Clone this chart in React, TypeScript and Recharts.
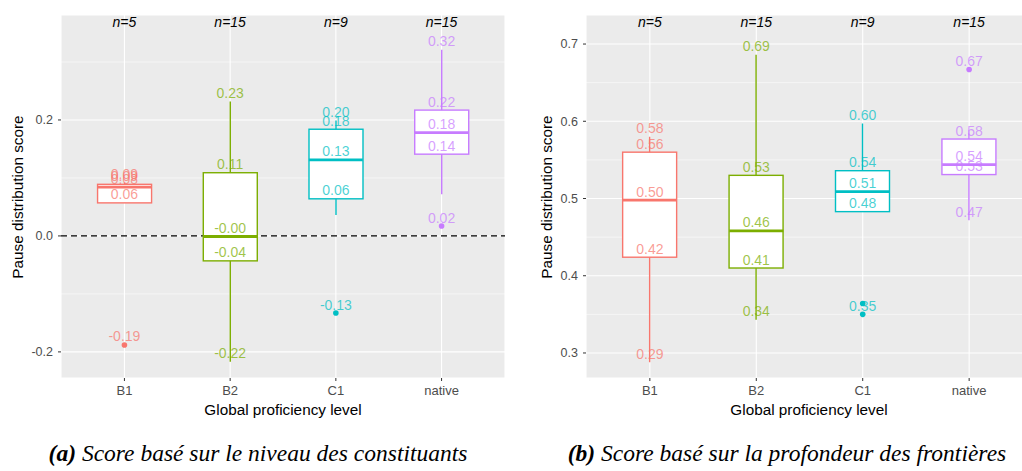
import { ComposedChart, Bar, Scatter, XAxis, YAxis, CartesianGrid } from "recharts";

const LEVELS = ["B1", "B2", "C1", "native"];
const COUNTS = [5, 15, 9, 15];
const COLORS = ["#F8766D", "#7CAE00", "#00BFC4", "#C77CFF"];

// (a) score from constituent level
const A_LOW = [0.057, -0.217, 0.036, 0.072];
const A_Q1 = [0.057, -0.043, 0.064, 0.141];
const A_MED = [0.084, -0.001, 0.131, 0.178];
const A_Q3 = [0.089, 0.109, 0.184, 0.217];
const A_HIGH = [0.092, 0.232, 0.199, 0.321];
const A_OUT = [[-0.188], [], [-0.133], [0.017]];
const A_TICKS = [-0.2, 0, 0.2];
const A_MINOR = [-0.1, 0.1, 0.3];

// (b) score from boundary depth
const B_LOW = [0.288, 0.343, 0.483, 0.472];
const B_Q1 = [0.424, 0.41, 0.483, 0.531];
const B_MED = [0.498, 0.458, 0.509, 0.544];
const B_Q3 = [0.56, 0.53, 0.536, 0.577];
const B_HIGH = [0.58, 0.686, 0.597, 0.588];
const B_OUT = [[], [], [0.364, 0.35], [0.667]];
const B_TICKS = [0.3, 0.4, 0.5, 0.6, 0.7];
const B_MINOR = [0.35, 0.45, 0.55, 0.65];

const FONT = "'Liberation Sans', Arial, sans-serif";
const PLOT_TOP = 15;

function buildRows(low: number[], q1: number[], med: number[], q3: number[], high: number[], out: number[][]) {
  return LEVELS.map((level, i) => {
    const all = [low[i], high[i], ...out[i]];
    return {
      level,
      n: COUNTS[i],
      whisker: [low[i], high[i]],
      box: [q1[i], q3[i]],
      med: med[i],
      o1: out[i].length > 0 ? out[i][0] : null,
      o2: out[i].length > 1 ? out[i][1] : null,
      lMin: Math.min(...all),
      lQ1: q1[i],
      lMed: med[i],
      lQ3: q3[i],
      lMax: Math.max(...all),
    };
  });
}

const rowsA = buildRows(A_LOW, A_Q1, A_MED, A_Q3, A_HIGH, A_OUT);
const rowsB = buildRows(B_LOW, B_Q1, B_MED, B_Q3, B_HIGH, B_OUT);

const colorOf = (p: any) => COLORS[LEVELS.indexOf(p?.payload?.level ?? p?.level)] || "#000";

// bottom tick: category name under the axis, group size at the top of the panel
function LevelTick(p: any) {
  const level = p.payload.value;
  return (
    <g>
      <text x={p.x} y={p.y + 9} textAnchor="middle" fontSize={13} fill="#4D4D4D">
        {level}
      </text>
      <text x={p.x} y={PLOT_TOP + 12} textAnchor="middle" fontSize={14} fontStyle="italic" fill="#000">
        {`n=${COUNTS[LEVELS.indexOf(level)]}`}
      </text>
    </g>
  );
}

function Panel({ rows, domain, ticks, minor, zero, left, width, plotLeft, plotRight }: any) {
  const plotW = plotRight - plotLeft;
  const pad = plotW / 42;
  const yAxisW = 40;
  const labelKeys = ["lMin", "lQ1", "lMed", "lQ3", "lMax"];

  return (
    <div style={{ position: "absolute", left, top: 0 }}>
      <ComposedChart
        width={width}
        height={400}
        data={rows}
        margin={{ top: PLOT_TOP, right: width - (plotRight - left), left: plotLeft - left - yAxisW, bottom: 2 }}
        style={{ fontFamily: FONT }}
      >
        <CartesianGrid xAxisId="main" fill="#EBEBEB" fillOpacity={1} stroke="#FFFFFF" strokeWidth={0.55} vertical={false} horizontalValues={minor} />
        <CartesianGrid xAxisId="main" stroke="#FFFFFF" strokeWidth={1.1} />
        {zero && (
          <CartesianGrid xAxisId="main" stroke="#000000" strokeDasharray="6 4" strokeWidth={1.2} vertical={false} horizontalValues={[0]} />
        )}
        <XAxis
          xAxisId="main"
          dataKey="level"
          padding={{ left: pad, right: pad }}
          axisLine={false}
          tickLine={{ stroke: "#333333" }}
          tickSize={3}
          tickMargin={5}
          tick={LevelTick}
          height={20}
        />
        <XAxis xAxisId="whisk" dataKey="level" padding={{ left: pad, right: pad }} hide />
        <YAxis
          type="number"
          domain={domain}
          ticks={ticks}
          allowDataOverflow
          width={yAxisW}
          axisLine={false}
          tickLine={{ stroke: "#333333" }}
          tickSize={3}
          tickMargin={5}
          tick={{ fill: "#4D4D4D", fontSize: 12.5 }}
          tickFormatter={(v: number) => v.toFixed(1)}
        />
        <Bar
          xAxisId="whisk"
          dataKey="whisker"
          barSize={54}
          isAnimationActive={false}
          shape={(p: any) => {
            const top = Math.min(p.y, p.y + p.height);
            const h = Math.abs(p.height);
            const cx = p.x + p.width / 2;
            return <line x1={cx} x2={cx} y1={top} y2={top + h} stroke={colorOf(p)} strokeWidth={1.4} />;
          }}
        />
        <Bar
          xAxisId="main"
          dataKey="box"
          barSize={54}
          isAnimationActive={false}
          shape={(p: any) => {
            const top = Math.min(p.y, p.y + p.height);
            const h = Math.abs(p.height);
            return <rect x={p.x} y={top} width={p.width} height={h} fill="#FFFFFF" stroke={colorOf(p)} strokeWidth={1.4} />;
          }}
        />
        <Scatter
          xAxisId="main"
          dataKey="med"
          isAnimationActive={false}
          shape={(p: any) =>
            p.cy == null ? <g /> : <line x1={p.cx - 27} x2={p.cx + 27} y1={p.cy} y2={p.cy} stroke={colorOf(p)} strokeWidth={2.8} />
          }
        />
        {["o1", "o2"].map((k) => (
          <Scatter
            key={k}
            xAxisId="main"
            dataKey={k}
            isAnimationActive={false}
            shape={(p: any) => (p.cy == null || p.payload[k] == null ? <g /> : <circle cx={p.cx} cy={p.cy} r={2.8} fill={colorOf(p)} />)}
          />
        ))}
        {labelKeys.map((k) => (
          <Scatter
            key={k}
            xAxisId="main"
            dataKey={k}
            isAnimationActive={false}
            shape={(p: any) =>
              p.cy == null ? (
                <g />
              ) : (
                <text x={p.cx} y={p.cy - 3.5} textAnchor="middle" fontSize={14} fill={colorOf(p)} fillOpacity={0.72}>
                  {p.payload[k].toFixed(2)}
                </text>
              )
            }
          />
        ))}
      </ComposedChart>
    </div>
  );
}

const axisTitle = { position: "absolute" as const, fontFamily: FONT, fontSize: 15.3, color: "#000", whiteSpace: "nowrap" as const };
const caption = {
  position: "absolute" as const,
  top: 440,
  fontFamily: "'Liberation Serif', 'DejaVu Serif', serif",
  fontStyle: "italic",
  fontSize: 23.5,
  whiteSpace: "nowrap" as const,
  transform: "translateX(-50%)",
};

export default function App() {
  return (
    <div style={{ position: "absolute", left: 0, top: 0, width: 1022, height: 471, overflow: "hidden", background: "#FFFFFF" }}>
      <Panel rows={rowsA} domain={[-0.245, 0.381]} ticks={A_TICKS} minor={A_MINOR} zero left={0} width={510} plotLeft={61} plotRight={505} />
      <Panel rows={rowsB} domain={[0.2676, 0.7376]} ticks={B_TICKS} minor={B_MINOR} zero={false} left={520} width={516} plotLeft={586} plotRight={1033} />

      <div style={{ ...axisTitle, left: 283, top: 401, transform: "translateX(-50%)" }}>Global proficiency level</div>
      <div style={{ ...axisTitle, left: 809, top: 401, transform: "translateX(-50%)" }}>Global proficiency level</div>
      <div style={{ ...axisTitle, left: 17.5, top: 196.5, transform: "translate(-50%, -50%) rotate(-90deg)" }}>Pause distribution score</div>
      <div style={{ ...axisTitle, left: 546.5, top: 196.5, transform: "translate(-50%, -50%) rotate(-90deg)" }}>Pause distribution score</div>

      <div style={{ ...caption, left: 258 }}>
        <b>(a)</b> Score basé sur le niveau des constituants
      </div>
      <div style={{ ...caption, left: 787 }}>
        <b>(b)</b> Score basé sur la profondeur des frontières
      </div>
    </div>
  );
}
